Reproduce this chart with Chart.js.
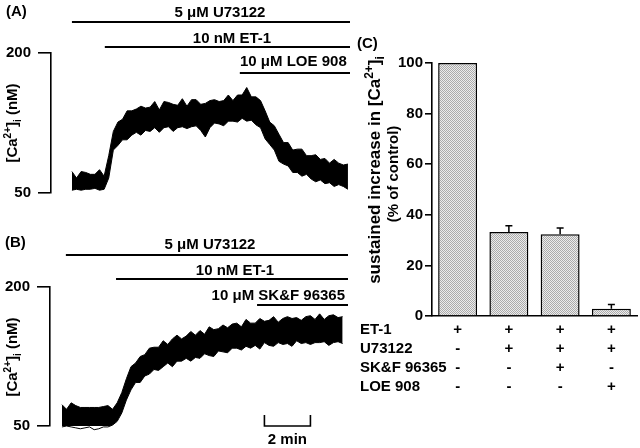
<!DOCTYPE html>
<html>
<head>
<meta charset="utf-8">
<script src="https://cdn.jsdelivr.net/npm/chart.js@4.4.0/dist/chart.umd.min.js"></script>
<style>
  body { margin: 0; background: #fff; }
  #wrap { position: relative; width: 640px; height: 448px; }
  canvas { position: absolute; }
</style>
</head>
<body>
<div id="wrap">
  <canvas id="chartA" width="355" height="215" style="left:0;top:0"></canvas>
  <canvas id="chartB" width="355" height="223" style="left:0;top:225px"></canvas>
  <canvas id="chartC" width="300" height="418" style="left:340px;top:30px"></canvas>
</div>
<script>
// sampling interval of the traces (min)
const sampleStep = 0.2;

// Panel A: [Ca2+]i envelope of the noisy trace (nM), one pair per sample
const upperA = [73, 66, 73, 72, 70, 70, 75, 68, 90, 116, 126, 129, 138, 138, 140, 143, 141, 142, 148, 139,
    148, 147, 145, 144, 151, 143, 150, 150, 145, 146, 149, 150, 148, 149, 155, 149, 155, 155, 163, 153,
    153, 149, 138, 126, 122, 113, 104, 104, 96, 97, 97, 90, 90, 91, 86, 87, 82, 86, 82, 80, 81];
const lowerA = [53, 54, 53, 54, 54, 55, 53, 54, 66, 96, 101, 107, 107, 112, 115, 112, 117, 116, 120, 115,
    120, 121, 116, 120, 121, 119, 121, 122, 117, 110, 120, 125, 124, 122, 127, 127, 126, 130, 127, 128,
    123, 120, 108, 102, 96, 84, 81, 79, 72, 72, 68, 70, 65, 62, 64, 60, 61, 57, 59, 57, 54];
const treatLabelsA = ['5 \u03bcM U73122', '10 nM ET-1', '10 \u03bcM LOE 908'];
const treatStartA = [0, 1.43, 7.3]; // min

// Panel B
const upperB = [73, 68, 75, 72, 70, 70, 70, 70, 70, 71, 72, 68, 75, 86, 101, 114, 118, 125, 127, 134,
    135, 135, 142, 138, 144, 148, 144, 147, 152, 148, 153, 149, 157, 154, 155, 159, 156, 160, 161, 157,
    165, 161, 161, 166, 163, 164, 168, 162, 166, 168, 166, 167, 164, 168, 169, 165, 171, 165, 169, 170, 167, 168];
const lowerB = [49, 50, 49, 48, 47, 48, 49, 46, 47, 49, 49, 51, 55, 64, 78, 89, 97, 97, 104, 106,
    111, 110, 114, 118, 114, 120, 120, 123, 120, 124, 123, 128, 126, 125, 131, 130, 129, 134, 134, 132,
    136, 134, 137, 133, 140, 137, 136, 140, 138, 139, 136, 142, 139, 140, 138, 140, 140, 141, 137, 140, 141, 139];
const treatLabelsB = ['5 \u03bcM U73122', '10 nM ET-1', '10 \u03bcM SK&F 96365'];
const treatStartB = [0.17, 2.35, 8.48]; // min
const scaleBarMin = [8.8, 10.8]; // 2 min

// Panel C: sustained increase, % of control
const conditions = ['control', 'U73122', 'U73122 + SK&F 96365', 'U73122 + LOE 908'];
const sustainedPct = [100, 33.2, 32.3, 2.9];
const sustainedErr = [0, 2.5, 2.5, 1.6];
const tableRows = ['ET-1', 'U73122', 'SK&F 96365', 'LOE 908'];
const tableSigns = [
    ['+', '+', '+', '+'],
    ['-', '+', '+', '+'],
    ['-', '-', '+', '-'],
    ['-', '-', '-', '+']
];

const FONT = '"Liberation Sans", Arial, Helvetica, sans-serif';
const BOLD = 'bold 15px ' + FONT;

// rotated text with super/subscripts: parts = [[text, shift]], shift 1 = sup, -1 = sub
function drawRich(ctx, parts, cx, cy, size) {
    size = size || 15;
    ctx.save();
    ctx.translate(cx, cy);
    ctx.rotate(-Math.PI / 2);
    ctx.textBaseline = 'middle';
    ctx.textAlign = 'left';
    const fontOf = p => 'bold ' + (p[1] === 0 ? size : Math.round(size * 0.68)) + 'px ' + FONT;
    let w = 0;
    parts.forEach(p => { ctx.font = fontOf(p); w += ctx.measureText(p[0]).width; });
    let x = -w / 2;
    parts.forEach(p => {
        ctx.font = fontOf(p);
        const dy = p[1] === 1 ? -size / 3 : (p[1] === -1 ? size / 3 : 0);
        ctx.fillText(p[0], x, dy);
        x += ctx.measureText(p[0]).width;
    });
    ctx.restore();
}

const caParts = [['[Ca', 0], ['2+', 1], [']', 0], ['i', -1], [' (nM)', 0]];

const traceDecor = {
    id: 'decor',
    afterDraw(chart, args, o) {
        const ctx = chart.ctx;
        const xs = chart.scales.x;
        ctx.save();
        ctx.fillStyle = '#000';
        ctx.strokeStyle = '#000';
        ctx.font = BOLD;
        ctx.textBaseline = 'middle';
        ctx.textAlign = 'left';
        ctx.fillText(o.letter, o.letterPos[0], o.letterPos[1]);

        o.labels.forEach((lab, i) => {
            const x0 = xs.getPixelForValue(o.starts[i]);
            ctx.lineWidth = 2;
            ctx.beginPath();
            ctx.moveTo(x0, o.lineY[i]);
            ctx.lineTo(o.lineEnd, o.lineY[i]);
            ctx.stroke();
            ctx.textAlign = o.textAlign[i];
            ctx.fillText(lab, o.textX[i], o.textY[i]);
        });

        drawRich(ctx, caParts, o.yTitle[0], o.yTitle[1]);

        if (o.scaleBar) {
            const sb = o.scaleBar;
            const a = xs.getPixelForValue(sb.range[0]);
            const b = xs.getPixelForValue(sb.range[1]);
            ctx.lineWidth = 1.6;
            ctx.beginPath();
            ctx.moveTo(a, sb.y0);
            ctx.lineTo(a, sb.y1);
            ctx.lineTo(b, sb.y1);
            ctx.lineTo(b, sb.y0);
            ctx.stroke();
            ctx.textAlign = 'center';
            ctx.fillText(sb.label, (a + b) / 2, sb.textY);
        }
        ctx.restore();
    }
};

function traceChart(id, upper, lower, xMin, xMax, axisW, pad, decor) {
    const t = upper.map((v, i) => +(i * sampleStep).toFixed(2));
    const band = {
        borderColor: '#000',
        backgroundColor: '#000',
        borderWidth: 1,
        pointRadius: 0,
        tension: 0,
        clip: false
    };
    return new Chart(document.getElementById(id), {
        type: 'line',
        data: {
            datasets: [
                Object.assign({ data: upper.map((v, i) => ({ x: t[i], y: v })), fill: '+1' }, band),
                Object.assign({ data: lower.map((v, i) => ({ x: t[i], y: v })), fill: false }, band)
            ]
        },
        options: {
            responsive: false,
            animation: false,
            events: [],
            layout: { padding: pad },
            plugins: { legend: { display: false }, tooltip: { enabled: false }, decor: decor },
            scales: {
                x: { type: 'linear', min: xMin, max: xMax, display: false },
                y: {
                    min: 50,
                    max: 200,
                    ticks: { stepSize: 150, color: '#000', padding: 7, font: { family: FONT, size: 15, weight: 'bold' } },
                    grid: { drawOnChartArea: false, tickLength: 13, color: '#000', lineWidth: 1.6 },
                    border: { color: '#000', width: 1.6 },
                    afterFit(s) { s.width = axisW; }
                }
            }
        },
        plugins: [traceDecor]
    });
}

traceChart('chartA', upperA, lowerA, -0.91, 12.09, 51,
    { top: 53, bottom: 22, left: 0, right: 5 },
    {
        letter: '(A)', letterPos: [6, 12],
        labels: treatLabelsA, starts: treatStartA,
        lineY: [22, 47, 73], lineEnd: 350,
        textX: [220, 232, 240], textY: [13, 39, 62], textAlign: ['center', 'center', 'left'],
        yTitle: [13, 123]
    });

traceChart('chartB', upperB, lowerB, -0.52, 12.52, 50,
    { top: 62, bottom: 22, left: 0, right: 5 },
    {
        letter: '(B)', letterPos: [5, 18],
        labels: treatLabelsB, starts: treatStartB,
        lineY: [30, 54, 80], lineEnd: 348,
        textX: [210, 235, 345], textY: [20, 46, 71], textAlign: ['center', 'center', 'right'],
        yTitle: [13, 132],
        scaleBar: { range: scaleBarMin, y0: 190, y1: 201, textY: 215, label: '2 min' }
    });

// stippled fill for the bars
const tile = document.createElement('canvas');
tile.width = 2; tile.height = 2;
const tctx = tile.getContext('2d');
tctx.fillStyle = '#ececec';
tctx.fillRect(0, 0, 2, 2);
tctx.fillStyle = '#ababab';
tctx.fillRect(0, 0, 1, 1);
tctx.fillRect(1, 1, 1, 1);
const ctxC = document.getElementById('chartC').getContext('2d');
const stipple = ctxC.createPattern(tile, 'repeat');

const barDecor = {
    id: 'barDecor',
    afterDraw(chart) {
        const ctx = chart.ctx;
        const xs = chart.scales.x, ys = chart.scales.y;
        ctx.save();
        ctx.fillStyle = '#000';
        ctx.strokeStyle = '#000';
        ctx.lineWidth = 1.5;

        // error bars (upper only)
        sustainedPct.forEach((v, i) => {
            if (!sustainedErr[i]) return;
            const x = xs.getPixelForValue(i);
            const y0 = ys.getPixelForValue(v);
            const y1 = ys.getPixelForValue(v + sustainedErr[i]);
            ctx.beginPath();
            ctx.moveTo(x, y0);
            ctx.lineTo(x, y1);
            ctx.moveTo(x - 3.5, y1);
            ctx.lineTo(x + 3.5, y1);
            ctx.stroke();
        });

        // treatment table
        ctx.font = BOLD;
        ctx.textBaseline = 'middle';
        tableRows.forEach((row, r) => {
            const y = 300 + r * 19;
            ctx.textAlign = 'left';
            ctx.fillText(row, 20, y);
            ctx.textAlign = 'center';
            tableSigns[r].forEach((s, c) => ctx.fillText(s, xs.getPixelForValue(c), y));
        });

        ctx.textAlign = 'left';
        ctx.fillText('(C)', 17, 14);

        drawRich(ctx, [['sustained increase in [Ca', 0], ['2+', 1], [']', 0], ['i', -1]], 35, 140, 17);
        drawRich(ctx, [['(% of control)', 0]], 54, 144);
        ctx.restore();
    }
};

new Chart(ctxC, {
    type: 'bar',
    data: {
        labels: conditions,
        datasets: [{
            data: sustainedPct,
            backgroundColor: stipple,
            borderColor: '#000',
            borderWidth: 1.5,
            barPercentage: 0.76,
            categoryPercentage: 1.0
        }]
    },
    options: {
        responsive: false,
        animation: false,
        events: [],
        layout: { padding: { top: 33, bottom: 132, left: 0, right: 3 } },
        plugins: { legend: { display: false }, tooltip: { enabled: false } },
        scales: {
            x: {
                ticks: { display: false },
                grid: { display: false, drawTicks: false },
                border: { color: '#000', width: 1.6 },
                afterFit(s) { s.height = 0; }
            },
            y: {
                min: 0,
                max: 100,
                ticks: { stepSize: 20, color: '#000', padding: 2, font: { family: FONT, size: 15, weight: 'bold' } },
                grid: { drawOnChartArea: false, tickLength: 7, color: '#000', lineWidth: 1.6 },
                border: { color: '#000', width: 1.6 },
                afterFit(s) { s.width = 92; }
            }
        }
    },
    plugins: [barDecor]
});
</script>
</body>
</html>
